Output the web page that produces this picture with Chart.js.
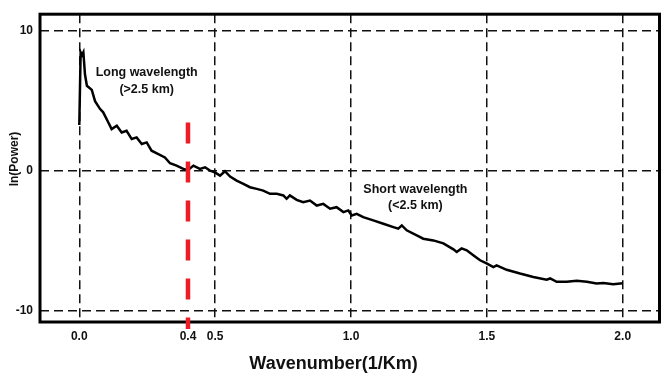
<!DOCTYPE html>
<html>
<head>
<meta charset="utf-8">
<script src="https://cdn.jsdelivr.net/npm/chart.js@4.4.0/dist/chart.umd.min.js"></script>
<style>
  html, body { margin: 0; padding: 0; background: #fff; }
  #wrap { width: 661px; height: 374px; }
</style>
</head>
<body>
<div id="wrap"><canvas id="chart" width="661" height="374"></canvas></div>
<script>
// power spectrum: ln(Power) vs wavenumber (1/km)
const waveNumber = [
  0.000, 0.005, 0.010, 0.015, 0.021, 0.028, 0.046, 0.058, 0.076, 0.088,
  0.107, 0.119, 0.138, 0.156, 0.174, 0.193, 0.211, 0.230, 0.248, 0.266,
  0.291, 0.315, 0.334, 0.358, 0.383, 0.400, 0.420, 0.444, 0.463, 0.481,
  0.499, 0.518, 0.536, 0.555, 0.579, 0.604, 0.628, 0.653, 0.677, 0.702,
  0.727, 0.751, 0.763, 0.775, 0.800, 0.824, 0.849, 0.874, 0.898, 0.923,
  0.947, 0.972, 0.990, 1.003, 1.021, 1.045, 1.082, 1.119, 1.156, 1.174,
  1.187, 1.205, 1.242, 1.266, 1.303, 1.340, 1.377, 1.389, 1.407, 1.426,
  1.450, 1.475, 1.499, 1.524, 1.536, 1.573, 1.622, 1.671, 1.720, 1.733,
  1.757, 1.794, 1.831, 1.868, 1.904, 1.929, 1.965, 2.000
];
const lnPower = [
  3.30, 8.50, 8.30, 8.50, 6.90, 6.10, 5.80, 5.00, 4.45, 4.20,
  3.47, 3.00, 3.24, 2.76, 2.88, 2.29, 2.41, 1.94, 2.05, 1.46,
  1.22, 0.98, 0.56, 0.39, 0.16, 0.07, 0.39, 0.16, 0.27, 0.04,
  -0.09, -0.32, -0.01, -0.39, -0.68, -0.91, -1.15, -1.27, -1.39, -1.62,
  -1.62, -1.74, -1.98, -1.74, -2.05, -2.22, -2.10, -2.46, -2.34, -2.69,
  -2.58, -2.93, -2.81, -3.17, -3.05, -3.29, -3.52, -3.76, -4.00, -4.11,
  -3.88, -4.23, -4.59, -4.83, -4.95, -5.16, -5.59, -5.78, -5.52, -5.66,
  -6.01, -6.37, -6.60, -6.85, -6.73, -7.05, -7.32, -7.56, -7.76, -7.67,
  -7.91, -7.91, -7.84, -7.91, -8.03, -7.99, -8.08, -8.01
];

// red dashed split marker at 0.4 1/km
const splitX = [0.4, 0.4];
const splitY = [3.47, -11.28];

const xTicks = [0, 0.4, 0.5, 1.0, 1.5, 2.0];
const xGridSkip = [0.4];
const yTicks = [-10, 0, 10];

const noteText = ['Long wavelength', '(>2.5 km)', 'Short wavelength', '(<2.5 km)'];
const noteX = [0.248, 0.248, 1.237, 1.237];
const noteY = [7.03, 5.85, -1.32, -2.46];

const FONT = "'Liberation Sans', Arial, sans-serif";

const toPoints = (xs, ys) => xs.map((x, i) => ({ x, y: ys[i] }));

// thick frame + axis titles + text notes
const decor = {
  id: 'decor',
  beforeDatasetsDraw(chart) {
    const { ctx, chartArea: a } = chart;
    ctx.save();
    ctx.strokeStyle = '#000';
    ctx.lineWidth = 3;
    ctx.strokeRect(a.left, a.top, a.right - a.left, a.bottom - a.top);
    ctx.restore();
  },
  afterDraw(chart) {
    const { ctx } = chart;
    const xs = chart.scales.x, ys = chart.scales.y;
    ctx.save();
    ctx.fillStyle = '#111';
    ctx.textAlign = 'center';
    ctx.textBaseline = 'middle';
    ctx.font = `bold 12.5px ${FONT}`;
    noteText.forEach((t, i) => {
      ctx.fillText(t, xs.getPixelForValue(noteX[i]), ys.getPixelForValue(noteY[i]));
    });
    ctx.font = `bold 18px ${FONT}`;
    ctx.fillText('Wavenumber(1/Km)', 333.5, 364);
    ctx.translate(15, 159);
    ctx.rotate(-Math.PI / 2);
    ctx.font = `bold 12px ${FONT}`;
    ctx.fillText('ln(Power)', 0, 0);
    ctx.restore();
  },
};

const gridCommon = {
  color: (c) => (c.tick && xGridSkip.includes(c.tick.value) ? 'rgba(0,0,0,0)' : '#111'),
  lineWidth: 1.5,
  drawTicks: false,
};

new Chart(document.getElementById('chart'), {
  type: 'line',
  data: {
    datasets: [
      {
        data: toPoints(splitX, splitY),
        borderColor: '#ee1c25',
        borderWidth: 4.5,
        borderDash: [21, 18],
        pointRadius: 0,
        clip: false,
      },
      {
        data: toPoints(waveNumber, lnPower),
        borderColor: '#000',
        borderWidth: 2.5,
        pointRadius: 0,
        tension: 0,
      },
    ],
  },
  options: {
    responsive: false,
    animation: false,
    devicePixelRatio: 1,
    layout: { padding: { top: 13, right: 1.5, left: 0, bottom: 0 } },
    plugins: { legend: { display: false }, tooltip: { enabled: false } },
    scales: {
      x: {
        type: 'linear',
        min: -0.1446,
        max: 2.1354,
        afterBuildTicks: (s) => { s.ticks = xTicks.map((v) => ({ value: v })); },
        afterFit: (s) => { s.height = 52; },
        grid: gridCommon,
        border: { display: false, dash: [9, 5] },
        ticks: {
          padding: 7,
          color: '#111',
          font: { family: FONT, size: 12, weight: 'bold' },
          callback: (v) => Number(v).toFixed(1),
          maxRotation: 0,
        },
      },
      y: {
        type: 'linear',
        min: -10.78,
        max: 11.21,
        afterBuildTicks: (s) => { s.ticks = yTicks.map((v) => ({ value: v })); },
        afterFit: (s) => { s.width = 40; },
        grid: gridCommon,
        border: { display: false, dash: [9, 5] },
        ticks: {
          padding: 7,
          color: '#111',
          font: { family: FONT, size: 12, weight: 'bold' },
          callback: (v) => String(v),
        },
      },
    },
  },
  plugins: [decor],
});
</script>
</body>
</html>
